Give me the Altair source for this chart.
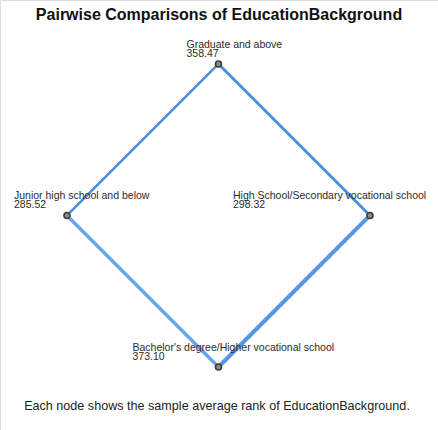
import math
import altair as alt
import pandas as pd

# Groups and their sample average ranks
groups = [
    "Graduate and above",
    "High School/Secondary vocational  school",
    "Bachelor's degree/Higher vocational school",
    "Junior high school and below",
]
mean_ranks = [358.47, 298.32, 373.10, 285.52]

# Pairs joined in the comparison network
edge_from = ["Graduate and above", "Graduate and above",
             "Junior high school and below", "High School/Secondary vocational  school"]
edge_to = ["Junior high school and below", "High School/Secondary vocational  school",
           "Bachelor's degree/Higher vocational school", "Bachelor's degree/Higher vocational school"]

# --- layout / styling -------------------------------------------------------
# nodes sit on a diamond, starting at the top and going clockwise
angles = [math.pi / 2 - i * math.pi / 2 for i in range(len(groups))]
label_dx = [-32, -137, -86, -53]
edge_widths = [2.5, 4.0, 1.5, 2.0]
edge_colors = ["#4a8fe0", "#4a8fe0", "#6aa5ea", "#5596e4"]

nodes = pd.DataFrame({
    "group": groups,
    "rank": mean_ranks,
    "x": [math.cos(a) for a in angles],
    "y": [math.sin(a) for a in angles],
    "dx": label_dx,
})
nodes["label"] = nodes["group"] + "\n" + nodes["rank"].map(lambda v: f"{v:.2f}")

pos = nodes.set_index("group")
edges = pd.DataFrame({"src": edge_from, "dst": edge_to})
edges["x"] = edges["src"].map(pos["x"])
edges["y"] = edges["src"].map(pos["y"])
edges["x2"] = edges["dst"].map(pos["x"])
edges["y2"] = edges["dst"].map(pos["y"])
edges["pair"] = edges["src"] + " - " + edges["dst"]

W, H = 438, 430
xs = alt.Scale(domain=[-1.442, 1.449], nice=False, zero=False)
ys = alt.Scale(domain=[-1.416, 1.422], nice=False, zero=False)
X = alt.X("x:Q", scale=xs, axis=None)
Y = alt.Y("y:Q", scale=ys, axis=None)

links = alt.Chart(edges).mark_rule(strokeCap="round").encode(
    x=X, y=Y, x2="x2:Q", y2="y2:Q",
    strokeWidth=alt.StrokeWidth("pair:N", scale=alt.Scale(domain=list(edges["pair"]), range=edge_widths), legend=None),
    color=alt.Color("pair:N", scale=alt.Scale(domain=list(edges["pair"]), range=edge_colors), legend=None),
)

points = alt.Chart(nodes).mark_point(
    shape="circle", size=36, filled=True, color="#8c8c8c",
    stroke="#3c3c3c", strokeWidth=1.6, opacity=1,
).encode(x=X, y=Y)

font = "Liberation Sans"
labels = []
for g, d in zip(groups, label_dx):
    labels.append(
        alt.Chart(nodes[nodes["group"] == g]).mark_text(
            align="left", baseline="bottom", dx=d, dy=-14,
            font=font, fontSize=10.5, lineHeight=9, color="#2b2b2b", lineBreak="\n",
        ).encode(x=X, y=Y, text="label:N")
    )

title = alt.Chart(pd.DataFrame({"t": ["Pairwise Comparisons of EducationBackground"]})).mark_text(
    font=font, fontSize=16, fontWeight="bold", color="#111111", align="center", baseline="alphabetic",
).encode(x=alt.value(219), y=alt.value(20), text="t:N")

note = alt.Chart(pd.DataFrame({"t": ["Each node shows the sample average rank of EducationBackground."]})).mark_text(
    font=font, fontSize=12.6, color="#222222", align="center", baseline="alphabetic",
).encode(x=alt.value(217), y=alt.value(410), text="t:N")

chart = alt.layer(links, points, *labels, title, note).properties(
    width=W, height=H, padding=0,
    autosize=alt.AutoSizeParams(type="none"),
).configure_view(stroke=None).configure(background="white")

chart.save("out.html", embed_options={"renderer": "svg", "actions": False})
